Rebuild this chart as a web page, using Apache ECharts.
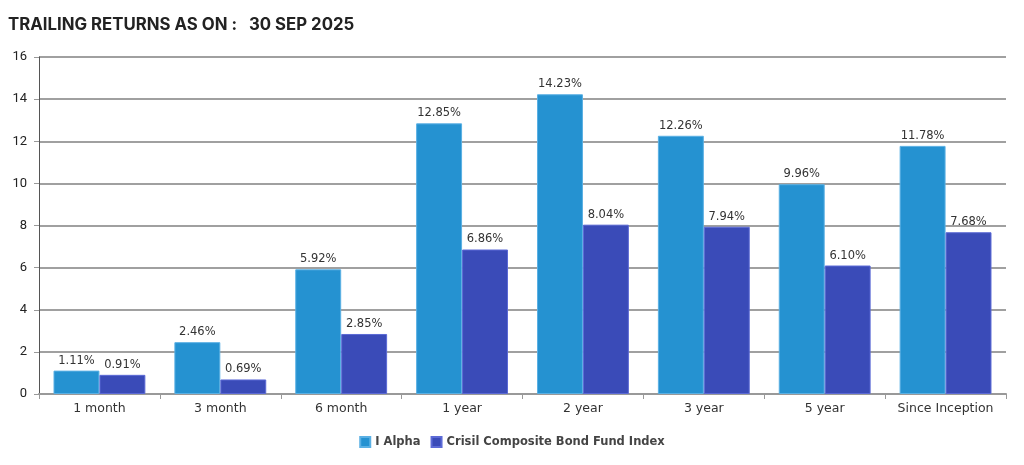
<!DOCTYPE html>
<html><head><meta charset="utf-8">
<script src="https://cdn.jsdelivr.net/npm/echarts@6/dist/echarts.min.js"></script>
<style>html,body{margin:0;padding:0;background:#fff}#c{width:1024px;height:465px}</style>
</head><body><div id="c"></div>
<script>
const categories = ['1 month','3 month','6 month','1 year','2 year','3 year','5 year','Since Inception'];
const alphaValues = [1.11, 2.46, 5.92, 12.85, 14.23, 12.26, 9.96, 11.78];
const indexValues = [0.91, 0.69, 2.85, 6.86, 8.04, 7.94, 6.10, 7.68];
const seriesNames = ['I Alpha', 'Crisil Composite Bond Fund Index'];
const yTicks = [0, 2, 4, 6, 8, 10, 12, 14, 16];

const chart = echarts.init(document.getElementById('c'));
const labelStyle = {show:true, position:'top', distance:4, fontFamily:'DejaVu Sans', fontSize:11.5, color:'#333',
  formatter: p => p.value.toFixed(2) + '%'};
chart.setOption({
  animation:false,
  title:{text:'TRAILING RETURNS AS ON :   30 SEP 2025', left:3, top:11,
    textStyle:{fontFamily:'Inter', fontSize:16.8, fontWeight:'bold', color:'#222'}},
  legend:{data:seriesNames, bottom:12, left:'center', itemWidth:10, itemHeight:10, itemGap:10,
    icon:'rect', textStyle:{fontFamily:'DejaVu Sans', fontSize:11.5, color:'#444', fontWeight:'bold'}},
  grid:{left:39, right:18, top:57, bottom:71},
  xAxis:{type:'category', data:categories,
    axisLine:{lineStyle:{color:'#999', width:2}},
    axisTick:{show:true, alignWithLabel:false, length:5, lineStyle:{color:'#999'}},
    axisLabel:{interval:0, fontFamily:'DejaVu Sans', fontSize:12.5, color:'#333', margin:8}},
  yAxis:{type:'value', min:0, max:16, interval:2,
    axisLine:{show:true, lineStyle:{color:'#555', width:1}},
    axisTick:{show:true, length:5, lineStyle:{color:'#999'}},
    axisLabel:{fontFamily:'Roboto', fontSize:13, color:'#222', margin:12},
    splitLine:{lineStyle:{color:'#a0a0a0', width:2}}},
  series:[
    {name:seriesNames[0], type:'bar', data:alphaValues, barGap:'0%', barCategoryGap:'24%',
     itemStyle:{color:'#2592d1', borderColor:'#5ab0e4', borderWidth:1}, label:labelStyle},
    {name:seriesNames[1], type:'bar', data:indexValues,
     itemStyle:{color:'#3a4bb8', borderColor:'#5c6ad6', borderWidth:1}, label:labelStyle}
  ]
});
</script></body></html>
